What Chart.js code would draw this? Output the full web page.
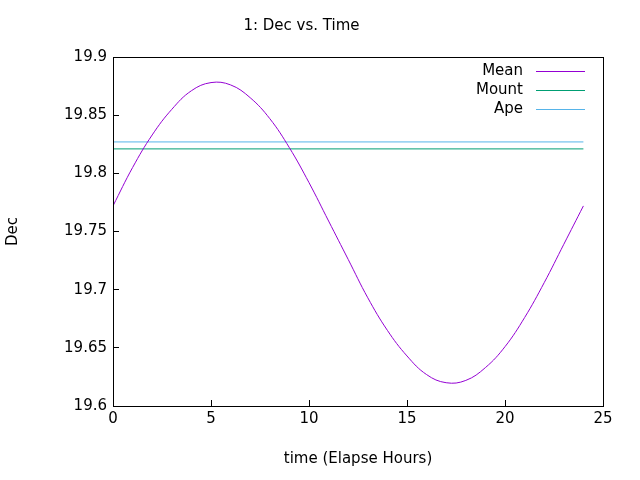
<!DOCTYPE html>
<html><head><meta charset="utf-8">
<script src="https://cdn.jsdelivr.net/npm/chart.js@4"></script>
<style>body{margin:0;background:#fff}#c{width:640px;height:480px}</style>
</head><body><div id="c"><canvas id="cv" width="640" height="480"></canvas></div>
<script>
const hours = [0,1,2,3,4,5,6,7,8,9,10,11,12,13,14,15,16,17,18,19,20,21,22,23,24];
const meanDec = [19.772,19.805,19.833,19.855,19.871,19.878,19.876,19.865,19.847,19.822,19.792,19.759,19.726,19.693,19.665,19.643,19.627,19.620,19.622,19.633,19.651,19.676,19.706,19.739,19.772];
const mountDec = 19.821;
const apeDec = 19.827;
const seriesNames = ['Mean','Mount','Ape'];
const colors = ['#9400d3','#009e73','#56b4e9'];

Chart.defaults.font.family = "'DejaVu Sans', sans-serif";
const font = {family:"'DejaVu Sans', sans-serif", size:15, weight:'normal'};

const legendPlugin = {
  id:'gpLegend',
  afterDraw(chart){
    const ctx = chart.ctx, a = chart.chartArea;
    ctx.save();
    ctx.font = "15px 'DejaVu Sans', sans-serif";
    ctx.textAlign = 'right'; ctx.textBaseline = 'middle'; ctx.fillStyle = '#000';
    seriesNames.forEach((n,i)=>{
      const y = a.top + 14 + i*19;
      ctx.fillText(n, a.right - 80, y);
      ctx.strokeStyle = colors[i]; ctx.lineWidth = 1;
      ctx.beginPath(); ctx.moveTo(a.right-67, y+0.5); ctx.lineTo(a.right-18, y+0.5); ctx.stroke();
    });
    ctx.restore();
  }
};

new Chart(document.getElementById('cv'), {
  type:'line',
  data:{datasets:[
    {label:'Mean', data:hours.map((h,i)=>({x:h,y:meanDec[i]})), borderColor:colors[0], borderWidth:1, pointRadius:0, tension:0.4},
    {label:'Mount', data:[{x:0,y:mountDec},{x:24,y:mountDec}], borderColor:colors[1], borderWidth:1, pointRadius:0},
    {label:'Ape', data:[{x:0,y:apeDec},{x:24,y:apeDec}], borderColor:colors[2], borderWidth:1, pointRadius:0}
  ]},
  options:{
    responsive:false, animation:false,
    layout:{padding:{top:0,right:37,bottom:8,left:0}},
    plugins:{
      legend:{display:false},
      title:{display:true, text:'1: Dec vs. Time', color:'#000', font, padding:{top:17,bottom:22}}
    },
    scales:{
      x:{type:'linear', min:0, max:25,
        ticks:{stepSize:5, color:'#000', font, padding:10},
        grid:{drawOnChartArea:false, color:'#000', tickLength:-6},
        border:{color:'#000'},
        title:{display:true, text:'time (Elapse Hours)', color:'#000', font, padding:{top:12}}},
      y:{min:19.6, max:19.9,
        ticks:{stepSize:0.05, color:'#000', font, padding:12, callback:v=>+v.toFixed(2)},
        grid:{drawOnChartArea:false, color:'#000', tickLength:-6},
        border:{color:'#000'},
        title:{display:true, text:'Dec', color:'#000', font},
        afterFit(s){s.width=113;}}
    }
  },
  plugins:[legendPlugin, {id:'frame', afterDraw(c){const a=c.chartArea,x=c.ctx;x.save();x.strokeStyle='#000';x.lineWidth=1;x.strokeRect(a.left+0.5,a.top+0.5,a.width,a.height);x.restore();}}]
});
</script></body></html>
